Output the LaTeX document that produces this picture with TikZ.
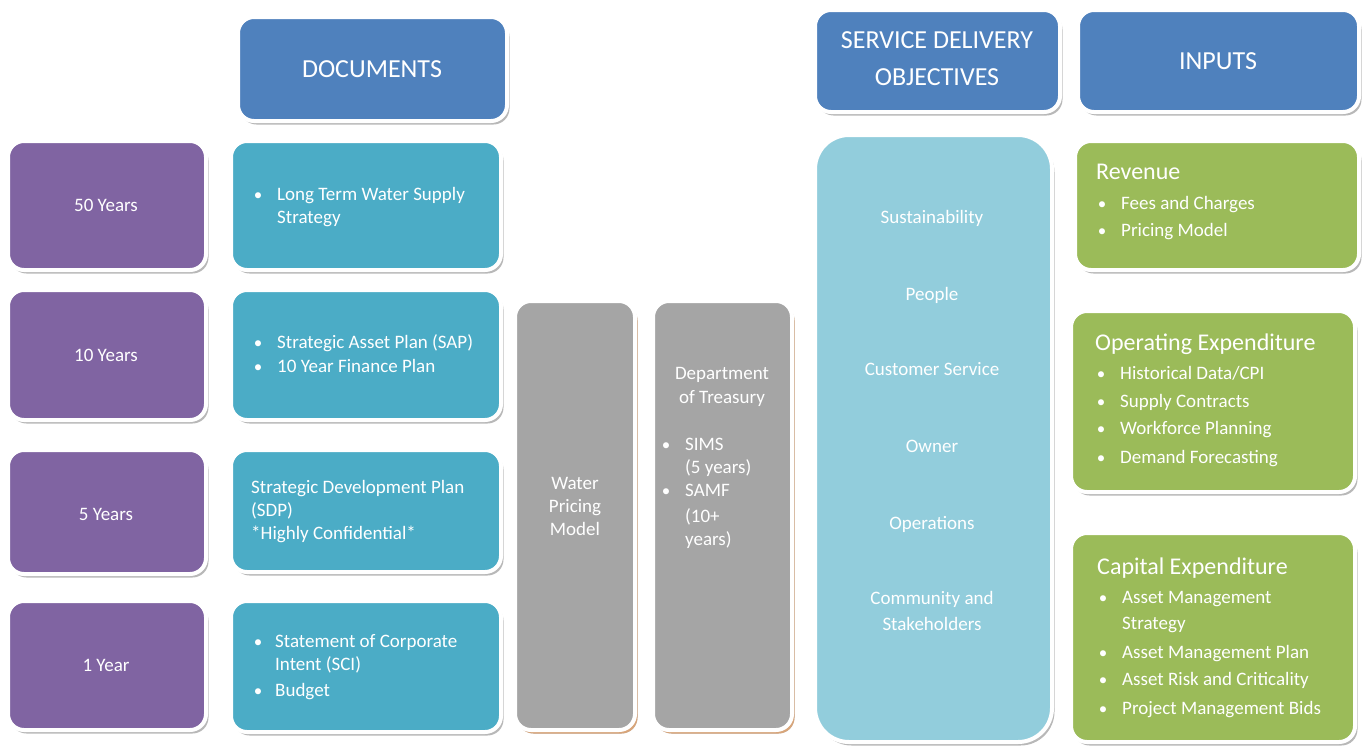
\documentclass[tikz,border=0pt]{standalone}
\usepackage{fontspec}
\setmainfont{Carlito}
\usetikzlibrary{shadows}
\definecolor{tierpurple}{HTML}{8064A2}
\definecolor{docblue}{HTML}{4BACC6}
\definecolor{headblue}{HTML}{4F81BD}
\definecolor{modelgray}{HTML}{A5A5A5}
\definecolor{sdoblue}{HTML}{92CDDC}
\definecolor{inputgreen}{HTML}{9BBB59}
\definecolor{greyshade}{HTML}{B8B8B8}
\definecolor{tanshade}{HTML}{D8A57A}
\tikzset{
  panel/.style={rectangle, rounded corners=16pt, draw=white, line width=4pt,
    inner sep=0pt, drop shadow={shadow xshift=2.5pt, shadow yshift=-3.5pt, fill=greyshade, opacity=1}},
  tallpanel/.style={panel, drop shadow={shadow xshift=2.5pt, shadow yshift=-3.5pt, fill=tanshade, opacity=1}},
  txt/.style={text=white, inner sep=0pt, font=\fontsize{19}{23}\selectfont},
  headtxt/.style={text=white, inner sep=0pt, font=\fontsize{26}{30}\selectfont},
  subtxt/.style={text=white, inner sep=0pt, font=\fontsize{24}{28}\selectfont},
  dot/.style={text=white, inner sep=0pt, font=\fontsize{17}{23}\selectfont},
}
\begin{document}
\begin{tikzpicture}[x=1pt, y=-1pt]
\useasboundingbox (0,0) rectangle (1367,747);

% time horizon column
\node[panel, fill=tierpurple, minimum width=198pt, minimum height=129pt] (t50) at (107,205.5) {};
\node[panel, fill=tierpurple, minimum width=198pt, minimum height=130pt] (t10) at (107,355) {};
\node[panel, fill=tierpurple, minimum width=198pt, minimum height=124pt] (t5) at (107,512) {};
\node[panel, fill=tierpurple, minimum width=198pt, minimum height=129pt] (t1) at (107,665.5) {};
\node[txt, anchor=base] (l50) at (106,211.5) {50 Years};
\node[txt, anchor=base] (l10) at (106,361.5) {10 Years};
\node[txt, anchor=base] (l5) at (106,520.5) {5 Years};
\node[txt, anchor=base] (l1) at (106,671.5) {1 Year};

% documents column
\node[panel, fill=headblue, minimum width=269pt, minimum height=104pt] (dochead) at (372.5,69) {};
\node[headtxt] (doctitle) at (372,69) {DOCUMENTS};
\node[panel, fill=docblue, minimum width=270pt, minimum height=129pt] (d50) at (366,205.5) {};
\node[panel, fill=docblue, minimum width=270pt, minimum height=130pt] (d10) at (366,355) {};
\node[panel, fill=docblue, minimum width=270pt, minimum height=122pt] (d5) at (366,511) {};
\node[panel, fill=docblue, minimum width=270pt, minimum height=131pt] (d1) at (366,666.5) {};

\node[dot, anchor=base] (b50a) at (258,200.5) {•};
\node[txt, anchor=base west] (d50a) at (277,200.5) {Long Term Water Supply};
\node[txt, anchor=base west] (d50b) at (277,223.5) {Strategy};

\node[dot, anchor=base] (b10a) at (258,348.5) {•};
\node[txt, anchor=base west] (d10a) at (277,348.5) {Strategic Asset Plan (SAP)};
\node[dot, anchor=base] (b10b) at (258,372.5) {•};
\node[txt, anchor=base west] (d10b) at (277,372.5) {10 Year Finance Plan};

\node[txt, anchor=base west] (d5a) at (251,493.5) {Strategic Development Plan};
\node[txt, anchor=base west] (d5b) at (251,516.5) {(SDP)};
\node[txt, anchor=base west] (d5c) at (251,539.5) {*Highly Confidential*};

\node[dot, anchor=base] (b1a) at (258,647.5) {•};
\node[txt, anchor=base west] (d1a) at (275,647.5) {Statement of Corporate};
\node[txt, anchor=base west] (d1b) at (275,670.5) {Intent (SCI)};
\node[dot, anchor=base] (b1b) at (258,696.5) {•};
\node[txt, anchor=base west] (d1c) at (275,696.5) {Budget};

% pricing model and treasury
\node[tallpanel, fill=modelgray, minimum width=120pt, minimum height=429pt] (wpm) at (575,515.5) {};
\node[txt, anchor=base] (wpm1) at (575,489.5) {Water};
\node[txt, anchor=base] (wpm2) at (575,512.5) {Pricing};
\node[txt, anchor=base] (wpm3) at (575,535.5) {Model};

\node[tallpanel, fill=modelgray, minimum width=139pt, minimum height=429pt] (treas) at (722.5,515.5) {};
\node[txt, anchor=base] (tr1) at (722,379.5) {Department};
\node[txt, anchor=base] (tr2) at (722,403.5) {of Treasury};
\node[dot, anchor=base] (trb1) at (666,450.5) {•};
\node[txt, anchor=base west] (tr3) at (685,450.5) {SIMS};
\node[txt, anchor=base west] (tr4) at (685,473.5) {(5 years)};
\node[dot, anchor=base] (trb2) at (666,496.5) {•};
\node[txt, anchor=base west] (tr5) at (685,496.5) {SAMF};
\node[txt, anchor=base west] (tr6) at (685,522.5) {(10+};
\node[txt, anchor=base west] (tr7) at (685,545.5) {years)};

% service delivery objectives
\node[panel, fill=headblue, minimum width=245pt, minimum height=102pt] (sdohead) at (937.5,61) {};
\node[headtxt, anchor=base] (sdot1) at (937,48.5) {SERVICE DELIVERY};
\node[headtxt, anchor=base] (sdot2) at (937,85.5) {OBJECTIVES};
\node[panel, rounded corners=34pt, fill=sdoblue, minimum width=237pt, minimum height=607pt] (sdo) at (933.5,438.5) {};
\foreach \t/\y [count=\i] in {Sustainability/223.5, People/300.5, {Customer Service}/375.5, Owner/452.5, Operations/529.5, {Community and}/604.5, Stakeholders/630.5}
  \node[txt, anchor=base] (sdo\i) at (932,\y) {\t};

% inputs
\node[panel, fill=headblue, minimum width=281pt, minimum height=102pt] (inhead) at (1218.5,61) {};
\node[headtxt] (intitle) at (1218,61) {INPUTS};

\node[panel, fill=inputgreen, minimum width=284pt, minimum height=129pt] (rev) at (1217,205.5) {};
\node[subtxt, anchor=base west] (revt) at (1096,179) {Revenue};
\foreach \t/\y [count=\i] in {{Fees and Charges}/209.5, {Pricing Model}/236.5} {
  \node[dot, anchor=base] (revb\i) at (1102,\y) {•};
  \node[txt, anchor=base west] (rev\i) at (1121,\y) {\t};
}

\node[panel, fill=inputgreen, minimum width=284pt, minimum height=181pt] (opex) at (1213,401.5) {};
\node[subtxt, anchor=base west] (opext) at (1095,350) {Operating Expenditure};
\foreach \t/\y [count=\i] in {{Historical Data/CPI}/379.5, {Supply Contracts}/407.5, {Workforce Planning}/434.5, {Demand Forecasting}/463.5} {
  \node[dot, anchor=base] (opexb\i) at (1101,\y) {•};
  \node[txt, anchor=base west] (opex\i) at (1120,\y) {\t};
}

\node[panel, fill=inputgreen, minimum width=284pt, minimum height=209pt] (capex) at (1213,637.5) {};
\node[subtxt, anchor=base west] (capext) at (1097,574) {Capital Expenditure};
\foreach \t/\y [count=\i] in {{Asset Management}/603.5, {Asset Management Plan}/658.5, {Asset Risk and Criticality}/685.5, {Project Management Bids}/714.5} {
  \node[dot, anchor=base] (capexb\i) at (1103,\y) {•};
  \node[txt, anchor=base west] (capex\i) at (1122,\y) {\t};
}
\node[txt, anchor=base west] (capex1b) at (1122,629.5) {Strategy};
\end{tikzpicture}
\end{document}
